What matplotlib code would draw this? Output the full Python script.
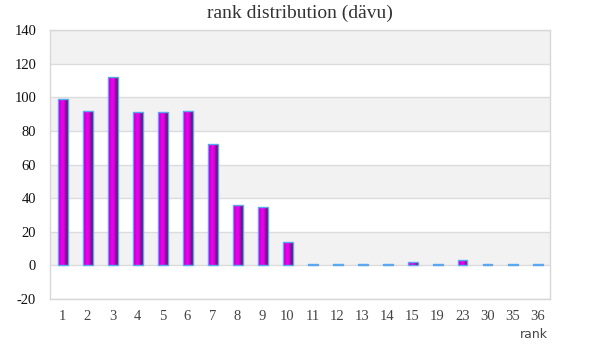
import numpy as np
import matplotlib
matplotlib.use("Agg")
import matplotlib.pyplot as plt
from matplotlib.colors import LinearSegmentedColormap

categories = ["1", "2", "3", "4", "5", "6", "7", "8", "9", "10",
              "11", "12", "13", "14", "15", "19", "23", "30", "35", "36"]
counts = [99, 92, 112, 91, 91, 92, 72, 36, 35, 14,
          1, 1, 1, 1, 2, 1, 3, 1, 1, 1]
y_ticks = [-20, 0, 20, 40, 60, 80, 100, 120, 140]

fig = plt.figure(figsize=(6, 3.6), dpi=100)
ax = fig.add_axes([50/600, 61/360, 500/600, 269/360])

x = np.arange(len(categories))

# alternating bands
for i, (lo, hi) in enumerate(zip(y_ticks[:-1], y_ticks[1:])):
    if i % 2 == 1:
        ax.axhspan(lo, hi, color="#f2f2f2", zorder=0, lw=0)
for t in y_ticks:
    ax.axhline(t, color="#dcdcdc", lw=1, zorder=1)

cmap = LinearSegmentedColormap.from_list(
    "cyl", ["#80008a", "#c800d0", "#f000f0", "#e000e4", "#a000ac", "#700078"])
grad = np.linspace(0, 1, 64).reshape(1, -1)

bars = ax.bar(x, counts, width=0.4, color="#d000d8", linewidth=0, zorder=3)
for b in bars:
    bx, by = b.get_x(), b.get_y()
    w, h = b.get_width(), b.get_height()
    im = ax.imshow(grad, cmap=cmap, aspect="auto",
                   extent=[bx, bx + w, by, by + h], zorder=3.5)
    im.set_clip_path(b)
    ax.add_patch(plt.Rectangle((bx, by), w, h, fill=False,
                               edgecolor="#5aa8f0", lw=1.0, zorder=4))

ax.set_xlim(-0.5, len(categories) - 0.5)
ax.set_ylim(-20, 140)

for s in ax.spines.values():
    s.set_color("#d8d8d8")
    s.set_linewidth(1)

ax.set_yticks(y_ticks)
ax.set_yticklabels([str(t) for t in y_ticks], fontsize=10.5,
                   family="Liberation Serif", color="#111111")
ax.set_xticks(x)
ax.set_xticklabels(categories, fontsize=10.5, family="Liberation Serif",
                   color="#444444")
ax.tick_params(length=0, pad=8)
ax.tick_params(axis="y", pad=10)

fig.text(0.5, 0.962, "rank distribution (dävu)", ha="center", va="center",
         fontsize=14, family="Liberation Serif", color="#333333")
fig.text(548/600, 1 - 335/360, "rank", ha="right", va="center",
         fontsize=9, family="DejaVu Sans", color="#444444")

fig.savefig("out.png", dpi=100)
